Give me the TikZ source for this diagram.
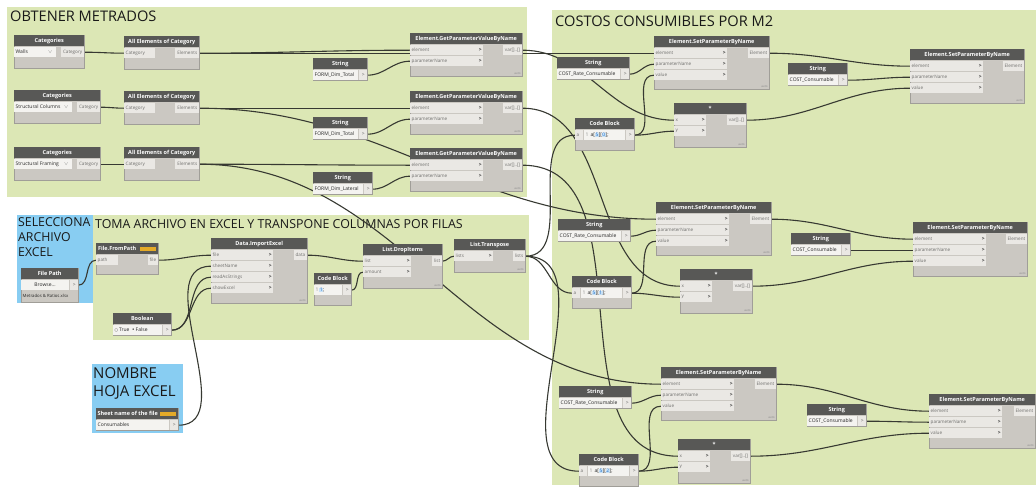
\documentclass[tikz,border=0pt]{standalone}
\usepackage{fontspec}
\setmainfont{Open Sans}
\newfontfamily\symfont{DejaVu Sans}
\usetikzlibrary{calc}

\definecolor{grpgreen}{RGB}{220,231,181}
\definecolor{grpblue}{RGB}{136,205,242}
\definecolor{headc}{RGB}{88,88,86}
\definecolor{bodyc}{RGB}{203,200,194}
\definecolor{edgec}{RGB}{160,158,152}
\definecolor{portc}{RGB}{234,232,228}
\definecolor{fieldc}{RGB}{244,243,240}
\definecolor{labelc}{RGB}{110,110,108}
\definecolor{wirec}{RGB}{55,57,50}
\definecolor{titlec}{RGB}{25,25,25}
\definecolor{numblue}{RGB}{30,110,200}
\definecolor{numbg}{RGB}{200,225,245}
\definecolor{badgec}{RGB}{228,170,40}

\pgfdeclarelayer{groups}
\pgfdeclarelayer{wires}
\pgfsetlayers{groups,wires,main}

% node body with its header bar
\newcommand{\dnode}[6]{%
  \node[nbody, minimum width=#4pt, minimum height=#5pt] (#1) at (#2,#3) {};
  \node[nhead, minimum width=#4pt] (#1-h) at (#1.north west) {#6};}
% input port row, plain and with arrow
\newcommand{\nport}[4]{%
  \node[port, anchor=north west, minimum width=#4pt] (#1-i#2)
    at ([yshift={-(1+11*#2)*1pt}]#1.north west) {};
  \node[plabel, anchor=west] at (#1-i#2.west) {#3};}
\newcommand{\nin}[4]{%
  \nport{#1}{#2}{#3}{#4}
  \node[parrow, anchor=east] at (#1-i#2.east) {\textgreater};}
% output port row
\newcommand{\nout}[3]{%
  \node[port, plabel, anchor=north east, inner xsep=2pt] (#1-o#2)
    at ([yshift={-(1+11*#2)*1pt}]#1.north east) {#3};}
% value field followed by a > output
\newcommand{\dval}[3]{%
  \fill[fieldc] ([shift={(#2pt,-12pt)}]#1.north west) rectangle ([shift={(-9pt,-22pt)}]#1.north east);
  \node[value, anchor=west] at ([shift={(#2pt,-17pt)}]#1.north west) {#3};
  \node[outarrow, anchor=north east] (#1-o1) at ([yshift=-12pt]#1.north east) {\textgreater};}
\newcommand{\lacing}[1]{\node[autotag, anchor=south east] at (#1.south east) {auto};}
\newcommand{\dstr}[5]{\dnode{#1}{#2}{#3}{#4}{22}{String}\dval{#1}{0}{#5}}
\newcommand{\dcb}[5]{\dnode{#1}{#2}{#3}{#4}{32}{Code Block}\nport{#1}{1}{a}{8}\dval{#1}{9}{#5}}
\newcommand{\dcat}[5]{%
  \dnode{#1}{#2}{#3}{#4}{33}{Categories}
  \fill[fieldc] ([yshift=-12pt]#1.north west) rectangle ([shift={(-28pt,-22pt)}]#1.north east);
  \node[value, anchor=west] at ([yshift=-17pt]#1.north west) {#5};
  \node[value, anchor=east, text=black!50] at ([shift={(-30pt,-17pt)}]#1.north east) {$\scriptscriptstyle\vee$};
  \nout{#1}{1}{Category}}
\newcommand{\cbnum}[1]{{\setlength{\fboxsep}{0.4pt}\colorbox{numbg}{\textcolor{numblue}{#1}}}}
\newcommand{\wire}[2]{\draw[wire] (#1) to[out=0,in=180] (#2);}

\begin{document}
\begin{tikzpicture}[x=1pt, y=-1pt,
    nbody/.style={anchor=north west, fill=bodyc, draw=edgec, line width=0.4pt, inner sep=0pt},
    nhead/.style={anchor=north west, fill=headc, text=white, inner sep=0pt,
      minimum height=11pt, font=\bfseries\fontsize{5.5}{6}\selectfont},
    port/.style={fill=portc, inner sep=0pt, minimum height=10pt},
    plabel/.style={inner sep=1.5pt, text=labelc, font=\fontsize{4.6}{5}\selectfont},
    parrow/.style={inner sep=1.5pt, text=black!75, font=\bfseries\fontsize{5}{6}\selectfont},
    outarrow/.style={port, minimum width=8pt, text=black!60, font=\fontsize{5}{6}\selectfont},
    value/.style={inner sep=1.5pt, text=black!85, font=\fontsize{5}{6}\selectfont},
    autotag/.style={inner sep=1.5pt, text=black!45, font=\fontsize{3}{3.5}\selectfont},
    badge/.style={fill=badgec, minimum width=16pt, minimum height=4pt, inner sep=0pt},
    gtitle/.style={inner sep=0pt, text=titlec, align=left},
    wire/.style={draw=wirec, line width=1.1pt}
  ]
  \useasboundingbox (0,0) rectangle (1036,487);

  % groups
  \begin{pgfonlayer}{groups}
    \fill[white] (0,0) rectangle (1036,487);
    \fill[grpgreen] (7,7) rectangle (527,197);
    \fill[grpgreen] (552,10) rectangle (1036,485);
    \fill[grpgreen] (93,215) rectangle (529,340);
    \fill[grpblue] (17,215) rectangle (93,303);
    \fill[grpblue] (92,364) rectangle (183,433);
    \node[gtitle, anchor=base west, font=\fontsize{14.6}{16}\selectfont] (t-metrados) at (10,22) {OBTENER METRADOS};
    \node[gtitle, anchor=base west, font=\fontsize{14.6}{16}\selectfont] (t-costos) at (555,27) {COSTOS CONSUMIBLES POR M2};
    \node[gtitle, anchor=base west, font=\fontsize{12.4}{15}\selectfont] (t-toma) at (95,228) {TOMA ARCHIVO EN EXCEL Y TRANSPONE COLUMNAS POR FILAS};
    \node[gtitle, anchor=north west, font=\fontsize{12.3}{15}\selectfont] (t-archivo) at (18,217) {SELECCIONA\\ARCHIVO\\EXCEL};
    \node[gtitle, anchor=north west, font=\fontsize{15}{18}\selectfont] (t-hoja) at (93,367) {NOMBRE\\HOJA EXCEL};
  \end{pgfonlayer}

  % quantities per category
  \foreach \row/\ycat/\wcat/\kind/\yall/\ystr/\wstr/\pname/\yget in {
      1/35/70/Walls/36/58/54/FORM\_Dim\_Total/33,
      2/90/86/Structural Columns/91/117/54/FORM\_Dim\_Total/91,
      3/147/86/Structural Framing/147/172/59/FORM\_Dim\_Lateral/148}{
    \dcat{cat\row}{14}{\ycat}{\wcat}{\kind}
    \dnode{all\row}{124}{\yall}{75}{33}{All Elements of Category}
    \nport{all\row}{1}{Category}{31}
    \nout{all\row}{1}{Elements}
    \dstr{fs\row}{313}{\ystr}{\wstr}{\pname}
    \dnode{gp\row}{410}{\yget}{112}{43}{Element.GetParameterValueByName}
    \nin{gp\row}{1}{element}{73}
    \nin{gp\row}{2}{parameterName}{73}
    \nout{gp\row}{1}{var[]..[]}
    \lacing{gp\row}
  }

  % excel input
  \dnode{fp}{21}{268}{57}{34}{File Path}
  \dval{fp}{0}{}
  \node[value] (fp-btn) at ([shift={(24pt,-17pt)}]fp.north west) {Browse...};
  \node[value, anchor=west, font=\fontsize{4.3}{5}\selectfont] (fp-name) at ([yshift=-28pt]fp.north west) {Metrados \& Ratios.xlsx};

  \dnode{ffp}{96}{243}{62}{31}{File.FromPath\kern20pt}
  \node[badge, anchor=east] (ffp-badge) at ([xshift=-2pt]ffp-h.east) {};
  \nport{ffp}{1}{path}{22}
  \nout{ffp}{1}{file}

  \dnode{xl}{211}{238}{96}{65}{Data.ImportExcel}
  \nin{xl}{1}{file}{62}
  \nin{xl}{2}{sheetName}{62}
  \nin{xl}{3}{readAsStrings}{62}
  \nin{xl}{4}{showExcel}{62}
  \nout{xl}{1}{data}
  \lacing{xl}

  \dnode{bool}{113}{313}{58}{22}{Boolean}
  \dval{bool}{0}{{\symfont\fontsize{4}{5}\selectfont ○}\,True\enspace{\symfont •}\,False}

  \dnode{sheet}{96}{408}{82}{22}{Sheet name of the file\kern19pt}
  \node[badge, anchor=east] (sheet-badge) at ([xshift=-2pt]sheet-h.east) {};
  \dval{sheet}{0}{Consumables}

  \dnode{cb0}{314}{273}{37}{32}{Code Block}
  \dval{cb0}{0}{{\color{black!45}1}\,\cbnum{1};}

  \dnode{drop}{363}{244}{79}{44}{List.DropItems}
  \nin{drop}{1}{list}{48}
  \nin{drop}{2}{amount}{48}
  \nout{drop}{1}{list}
  \lacing{drop}

  \dnode{tr}{454}{239}{71}{33}{List.Transpose}
  \nin{tr}{1}{lists}{39}
  \nout{tr}{1}{lists}
  \lacing{tr}

  % cost parameters
  \foreach \k/\xr/\yr/\xs/\ys/\xm/\ym/\xc/\yc/\xt/\yt/\xb/\yb/\wb/\idx in {
      1/557/57/654/36/674/103/575/118/788/63/910/49/114/0,
      2/558/219/656/202/680/269/572/276/791/233/913/222/114/1,
      3/559/386/661/367/678/439/579/454/807/404/929/394/106/2}{
    \dstr{rs\k}{\xr}{\yr}{72}{COST\_Rate\_Consumable}
    \dnode{sp\k}{\xs}{\ys}{115}{53}{Element.SetParameterByName}
    \nin{sp\k}{1}{element}{73}
    \nin{sp\k}{2}{parameterName}{73}
    \nin{sp\k}{3}{value}{73}
    \nout{sp\k}{1}{Element}
    \lacing{sp\k}
    \dcb{cb\k}{\xc}{\yc}{59}{{\color{black!45}1}\, a[\cbnum{5}][\cbnum{\idx}];}
    \dnode{mul\k}{\xm}{\ym}{72}{44}{*}
    \nin{mul\k}{1}{x}{32}
    \nin{mul\k}{2}{y}{32}
    \nout{mul\k}{1}{var[]..[]}
    \lacing{mul\k}
    \dstr{cs\k}{\xt}{\yt}{59}{COST\_Consumable}
    \dnode{spb\k}{\xb}{\yb}{\wb}{54}{Element.SetParameterByName}
    \nin{spb\k}{1}{element}{73}
    \nin{spb\k}{2}{parameterName}{73}
    \nin{spb\k}{3}{value}{73}
    \nout{spb\k}{1}{Element}
    \lacing{spb\k}
  }

  % wires
  \begin{pgfonlayer}{wires}
    \foreach \row in {1,2,3}{
      \wire{cat\row-o1.east}{all\row-i1.west}
      \wire{all\row-o1.east}{gp\row-i1.west}
      \wire{all\row-o1.east}{sp\row-i1.west}
      \wire{fs\row-o1.east}{gp\row-i2.west}
      \wire{gp\row-o1.east}{mul\row-i1.west}
      \wire{tr-o1.east}{cb\row-i1.west}
      \wire{rs\row-o1.east}{sp\row-i2.west}
      \wire{cb\row-o1.east}{sp\row-i3.west}
      \wire{cb\row-o1.east}{mul\row-i2.west}
      \wire{sp\row-o1.east}{spb\row-i1.west}
      \wire{cs\row-o1.east}{spb\row-i2.west}
      \wire{mul\row-o1.east}{spb\row-i3.west}
    }
    \wire{fp-o1.east}{ffp-i1.west}
    \wire{ffp-o1.east}{xl-i1.west}
    \wire{sheet-o1.east}{xl-i2.west}
    \wire{bool-o1.east}{xl-i3.west}
    \wire{bool-o1.east}{xl-i4.west}
    \wire{xl-o1.east}{drop-i1.west}
    \wire{cb0-o1.east}{drop-i2.west}
    \wire{drop-o1.east}{tr-i1.west}
  \end{pgfonlayer}
\end{tikzpicture}
\end{document}
